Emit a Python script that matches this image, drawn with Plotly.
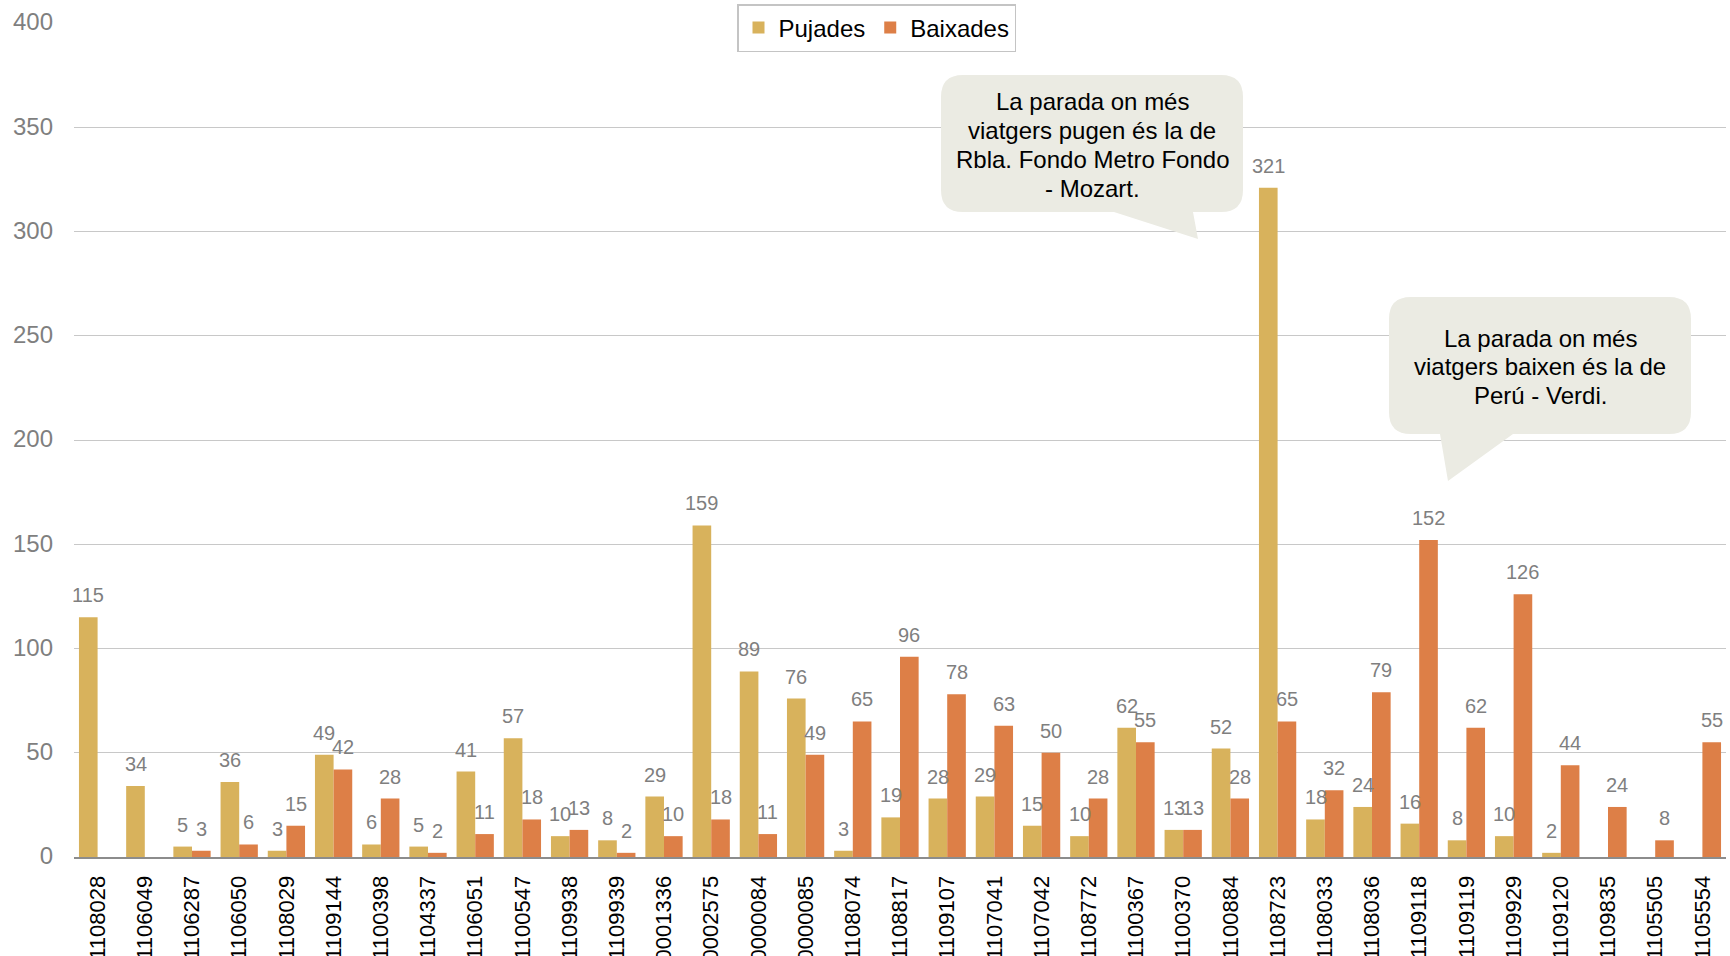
import plotly.graph_objects as go

# ---------------- data ----------------
stops = ["1108028", "1106049", "1106287", "1106050", "1108029", "1109144", "1100398",
         "1104337", "1106051", "1100547", "1109938", "1109939", "0001336", "0002575",
         "0000084", "0000085", "1108074", "1108817", "1109107", "1107041", "1107042",
         "1108772", "1100367", "1100370", "1100884", "1108723", "1108033", "1108036",
         "1109118", "1109119", "1109929", "1109120", "1109835", "1105505", "1105554"]
pujades = [115, 34, 5, 36, 3, 49, 6, 5, 41, 57, 10, 8, 29, 159, 89, 76, 3, 19, 28, 29,
           15, 10, 62, 13, 52, 321, 18, 24, 16, 8, 10, 2, None, None, None]
baixades = [None, None, 3, 6, 15, 42, 28, 2, 11, 18, 13, 2, 10, 18, 11, 49, 65, 96, 78, 63,
            50, 28, 55, 13, 28, 65, 32, 79, 152, 62, 126, 44, 24, 8, 55]
series_names = ["Pujades", "Baixades"]
note_up = ["La parada on més", "viatgers pugen és la de", "Rbla. Fondo Metro Fondo", "- Mozart."]
note_down = ["La parada on més", "viatgers baixen és la de", "Perú - Verdi."]

# ---------------- layout constants ----------------
FW, FH = 1730, 956
L, R, T, B = 74, 4, 23, 99
PW, PH = FW - L - R, FH - T - B
FONT = "Liberation Sans, Arial, sans-serif"
C_PUJ = "#D8B25C"
C_BAI = "#DD7F47"
GRAY = "#7F7F7F"


def px(x, y):
    return (x - L) / PW, (FH - B - y) / PH


def pt(x, y):
    a, b = px(x, y)
    return f"{a:.5f},{b:.5f}"


def callout(x0, y0, x1, y1, r, tb0, tb1, tip):
    return ("M" + pt(x0 + r, y0) + " L" + pt(x1 - r, y0) +
            " Q" + pt(x1, y0) + " " + pt(x1, y0 + r) +
            " L" + pt(x1, y1 - r) +
            " Q" + pt(x1, y1) + " " + pt(x1 - r, y1) +
            " L" + pt(tb1, y1) + " L" + pt(*tip) + " L" + pt(tb0, y1) +
            " L" + pt(x0 + r, y1) +
            " Q" + pt(x0, y1) + " " + pt(x0, y1 - r) +
            " L" + pt(x0, y0 + r) +
            " Q" + pt(x0, y0) + " " + pt(x0 + r, y0) + " Z")


fig = go.Figure()
fig.add_trace(go.Bar(x=stops, y=pujades, name=series_names[0], marker_color=C_PUJ,
                     marker_line_width=0))
fig.add_trace(go.Bar(x=stops, y=baixades, name=series_names[1], marker_color=C_BAI,
                     marker_line_width=0))

annotations = []
for vals, shift in ((pujades, -9.3), (baixades, 9.3)):
    for i, v in enumerate(vals):
        if v is None:
            continue
        annotations.append(dict(x=i, y=v, xref="x", yref="y", text=str(v), showarrow=False,
                                xshift=shift, yshift=9, yanchor="bottom", xanchor="center",
                                font=dict(family=FONT, size=20, color=GRAY)))


def add_note(lines, cx, y_first, step):
    for k, line in enumerate(lines):
        ax, ay = px(cx, y_first + k * step)
        annotations.append(dict(x=ax, y=ay, xref="paper", yref="paper", text=line,
                                showarrow=False, xanchor="center", yanchor="middle",
                                font=dict(family=FONT, size=24, color="#000000")))


add_note(note_up, 1092, 102, 28.7)
add_note(note_down, 1540, 338, 28.5)

shapes = [
    dict(type="path", xref="paper", yref="paper",
         path=callout(941, 75, 1243, 212, 22, 1114, 1193, (1198, 239)),
         fillcolor="#EBEBE3", line=dict(width=0), layer="above"),
    dict(type="path", xref="paper", yref="paper",
         path=callout(1389, 297, 1691, 434, 22, 1440, 1513, (1448, 481)),
         fillcolor="#EBEBE3", line=dict(width=0), layer="above"),
]

lx, ly = px(876.5, 4)
fig.update_layout(
    width=FW, height=FH,
    margin=dict(l=L, r=R, t=T, b=B, pad=0, autoexpand=False),
    paper_bgcolor="white", plot_bgcolor="white",
    barmode="group", bargap=0.21, bargroupgap=0,
    font=dict(family=FONT, size=20, color="#000000"),
    legend=dict(orientation="h", x=lx, y=ly, xanchor="center", yanchor="top",
                bgcolor="white", bordercolor="#C4C4C4", borderwidth=1.5,
                font=dict(family=FONT, size=24, color="#000000"),
                tracegroupgap=0, itemclick=False),
    xaxis=dict(type="category", range=[-0.5, len(stops) - 0.5], showline=True,
               linecolor="#8C8C8C", linewidth=2,
               showgrid=False, ticks="", tickangle=-90, automargin=False,
               ticklabelstandoff=8,
               tickfont=dict(family=FONT, size=22, color="#000000")),
    yaxis=dict(range=[0, 400], dtick=50, showline=False, showgrid=True,
               gridcolor="#C8C8C8", gridwidth=1.3, zeroline=False, ticks="",
               automargin=False, ticklabelstandoff=20, ticklabelshift=-1,
               tickfont=dict(family=FONT, size=24, color=GRAY)),
    annotations=annotations,
    shapes=shapes,
    showlegend=True,
)

fig.write_html("out.html", config={"displayModeBar": False},
               post_script="document.body.style.margin='0';document.body.style.overflow='hidden';")
